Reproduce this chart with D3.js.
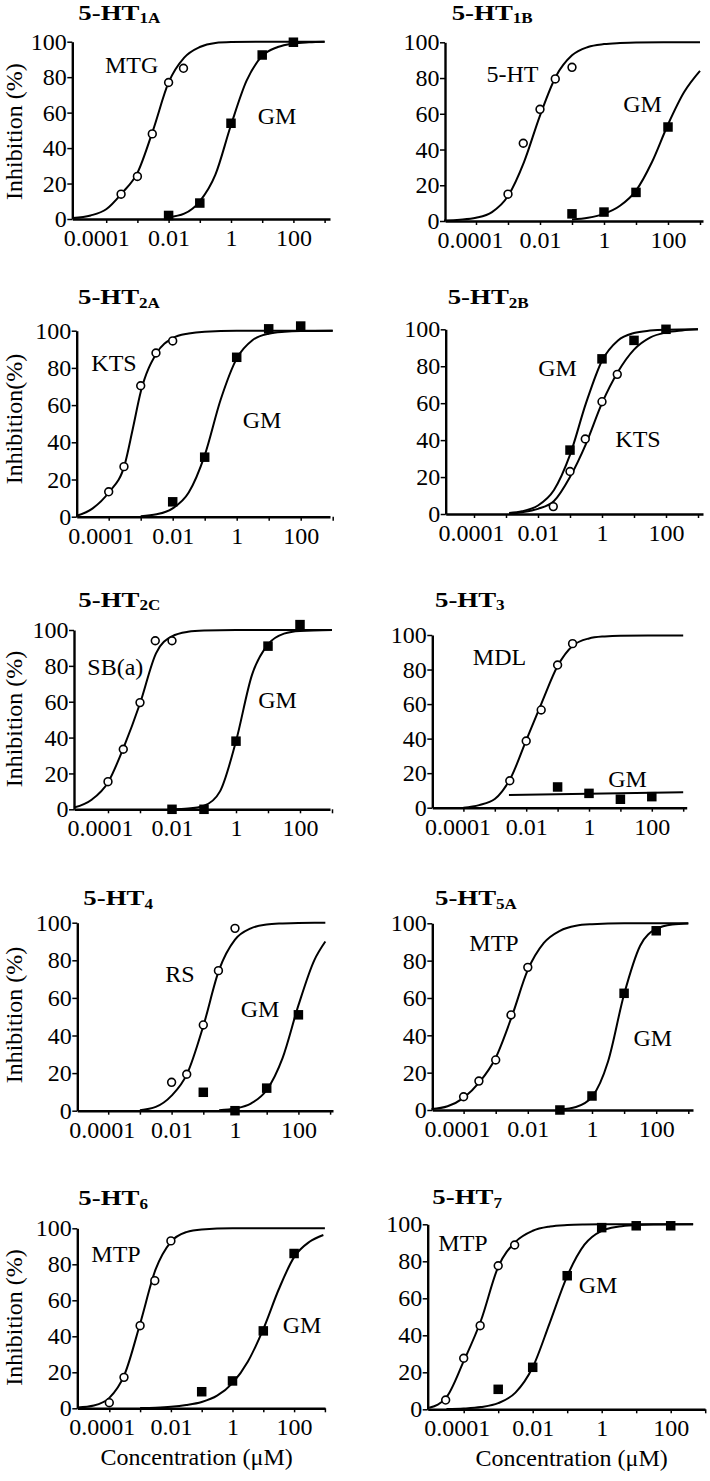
<!DOCTYPE html>
<html><head><meta charset="utf-8">
<script src="https://cdn.jsdelivr.net/npm/d3@7"></script>
<style>
body{margin:0;background:#fff}
svg{display:block}
text{font-family:"Liberation Serif","Times New Roman",serif;fill:#000}
</style>
</head><body>
<svg id="chart" width="710" height="1481"></svg>
<script>
// ---------------- DATA ----------------
const titleMain = ["5-HT","5-HT","5-HT","5-HT","5-HT","5-HT","5-HT","5-HT","5-HT","5-HT"];
const titleSub  = ["1A","1B","2A","2B","2C","3","4","5A","6","7"];
const refLabels = ["MTG","5-HT","KTS","KTS","SB(a)","MDL","RS","MTP","MTP","MTP"];
const gmLabel = "GM";
const yAxisLabels = ["Inhibition (%)", null, "Inhibition(%)", null, "Inhibition (%)", null, "Inhibition (%)", null, "Inhibition (%)", null];
const xAxisLabel = "Concentration (\u03bcM)";
const xTickValues = [1e-4, 1e-2, 1, 100];
const xTickLabels = ["0.0001", "0.01", "1", "100"];
const xAllTicks = [1e-4, 1e-3, 1e-2, 1e-1, 1, 10, 100, 1000];
const yTickValues = [0, 20, 40, 60, 80, 100];

// measured points [concentration (uM), inhibition (%)]
const ref_1A = [[3e-4,14],[1e-3,24],[3e-3,48],[1e-2,77],[3e-2,85]];
const gm_1A  = [[0.01,2],[0.1,9],[1,54],[10,92.5],[100,99.7]];
const ref_1B = [[1e-3,15],[3e-3,43.5],[1e-2,62.5],[3e-2,79.5],[0.1,86]];
const gm_1B  = [[0.1,4],[1,5],[10,16],[100,52.6]];
const ref_2A = [[1e-4,13.4],[3e-4,26.9],[1e-3,70.4],[3e-3,88],[1e-2,94.5]];
const gm_2A  = [[0.01,8],[0.1,32],[1,85.7],[10,101],[100,102.5]];
const ref_2B = [[0.03,4],[0.1,23],[0.3,40.6],[1,60.8],[3,75.6]];
const gm_2B  = [[0.1,34.6],[1,84],[10,94],[100,100]];
const ref_2C = [[1e-4,15.4],[3e-4,33.5],[1e-3,59.5],[3e-3,94],[1e-2,94]];
const gm_2C  = [[0.01,0],[0.1,0],[1,38],[10,91],[100,103]];
const ref_3  = [[3e-3,15.6],[1e-2,38.6],[3e-2,56.6],[0.1,82.6],[0.3,95]];
const gm_3   = [[0.1,12],[1,8.3],[10,4.9],[100,6.4]];
const ref_4  = [[0.01,15.1],[0.03,19.4],[0.1,45.6],[0.3,74.5],[1,97]];
const gm_4   = [[0.1,9.8],[1,0],[10,12],[100,51]];
const ref_5A = [[1e-4,7.1],[3e-4,15.5],[1e-3,26.8],[3e-3,50.9],[1e-2,76.4]];
const gm_5A  = [[0.1,0],[1,7.5],[10,62.5],[100,96]];
const ref_6  = [[1e-4,3.1],[3e-4,17.2],[1e-3,45.9],[3e-3,70.9],[1e-2,93]];
const gm_6   = [[0.1,9.2],[1,15.2],[10,43],[100,86]];
const ref_7  = [[3e-5,5],[1e-4,27.6],[3e-4,45.2],[1e-3,77.6],[3e-3,88.8]];
const gm_7   = [[1e-3,10.8],[1e-2,22.7],[0.1,72.2],[1,98.2],[10,99.2],[100,99.2]];

// fitted curves [log10 concentration, inhibition (%)]
const refFit_1A = [[-5.07,0.5],[-4.5,2],[-4,5.5],[-3.5,14.5],[-3,26],[-2.5,50],[-2,77],[-1.5,91],[-1,97],[-0.5,99.3],[0,99.8],[1,100],[3,100]];
const gmFit_1A  = [[-2,1],[-1.5,3],[-1,10],[-0.5,25],[0,53],[0.5,78],[1,92],[1.5,97],[2,99],[2.5,99.7],[3,100]];
const refFit_1B = [[-5,0.3],[-4.5,0.7],[-4,1.8],[-3.5,5],[-3,14],[-2.5,33],[-2,59],[-1.5,81],[-1,92.7],[-0.5,97.4],[0,99],[0.5,99.6],[1,99.9],[3,100]];
const gmFit_1B  = [[-1,0.8],[-0.5,1.8],[0,4],[0.5,8.5],[1,17],[1.5,33],[2,54],[2.5,72],[3,84]];
const refFit_2A = [[-5,0.5],[-4.5,4.5],[-4,13],[-3.5,28],[-3.25,47],[-3,67],[-2.5,88],[-2,96],[-1.5,98.5],[-1,99.5],[0,100],[3,100]];
const gmFit_2A  = [[-3,0.3],[-2.5,1.3],[-2,4.5],[-1.5,13],[-1,33],[-0.5,63],[0,85],[0.5,95],[1,98.4],[1.5,99.4],[2,99.8],[3,100]];
const refFit_2B = [[-2.9,0.3],[-2.5,1],[-2,2.8],[-1.5,7],[-1,20],[-0.5,38],[0,60],[0.5,77],[1,89],[1.5,95.5],[2,98.3],[2.5,99.4],[3,100]];
const gmFit_2B  = [[-2.9,0.6],[-2.5,1.5],[-2,4.6],[-1.5,13],[-1,32],[-0.5,60],[0,83],[0.5,94],[1,98],[1.5,99.3],[2,99.8],[3,100]];
const refFit_2C = [[-5.06,1],[-4.5,5.5],[-4,15],[-3.5,35],[-3,59],[-2.5,87],[-2,96.5],[-1.5,99],[-1,99.7],[0,100],[3,100]];
const gmFit_2C  = [[-2,0],[-1.5,0.4],[-1,2],[-0.5,10],[0,38],[0.5,75],[1,92],[1.5,98],[2,99.5],[3,100]];
const refFit_3  = [[-4,0],[-3.5,1.5],[-3,5],[-2.5,17],[-2,39],[-1.5,61],[-1,82],[-0.5,94],[0,98],[0.5,99.2],[1,99.6],[3,99.7]];
const gmFit_3   = [[-2.55,7.4],[3,8.9]];
const refFit_4  = [[-3,0.3],[-2.5,2],[-2,8],[-1.5,20],[-1,45],[-0.5,75],[0,91],[0.5,97],[1,99],[1.5,99.6],[2,99.9],[2.85,100]];
const gmFit_4   = [[-0.5,0.3],[0,1.2],[0.5,3.8],[1,11],[1.5,28],[2,56],[2.5,80],[2.85,90]];
const refFit_5A = [[-5,0.5],[-4.5,2],[-4,6.5],[-3.5,15],[-3,28],[-2.5,50],[-2,75],[-1.5,89.5],[-1,96],[-0.5,98.7],[0,99.5],[1,100],[3,100]];
const gmFit_5A  = [[-1,0.3],[-0.5,1.6],[0,7],[0.5,26],[1,62],[1.5,88],[2,97],[2.5,99.4],[3,99.9]];
const refFit_6  = [[-5.03,0.5],[-4.5,1.6],[-4,5.8],[-3.5,19],[-3,47],[-2.5,77],[-2,92.5],[-1.5,97.9],[-1,99.4],[0,100],[3,100]];
const gmFit_6   = [[-3,0.1],[-2.5,0.3],[-2,0.8],[-1.5,1.8],[-1,3.5],[-0.5,7],[0,14],[0.5,26],[1,44],[1.5,66],[2,84],[2.5,92.5],[2.95,96.3]];
const refFit_7  = [[-5,0.8],[-4.5,6.5],[-4,26],[-3.5,48],[-3,77],[-2.5,90.5],[-2,96.5],[-1.5,98.8],[-1,99.6],[-0.5,99.9],[0,100],[2.65,100]];
const gmFit_7   = [[-4.5,0.1],[-4,0.4],[-3.5,1.2],[-3,3.3],[-2.5,9],[-2,22.7],[-1.5,47],[-1,72],[-0.5,89],[0,96.5],[0.5,98.8],[1,99.6],[1.5,99.9],[2.65,100]];

const refPts = [ref_1A, ref_1B, ref_2A, ref_2B, ref_2C, ref_3, ref_4, ref_5A, ref_6, ref_7];
const gmPts  = [gm_1A, gm_1B, gm_2A, gm_2B, gm_2C, gm_3, gm_4, gm_5A, gm_6, gm_7];
const refFits = [refFit_1A, refFit_1B, refFit_2A, refFit_2B, refFit_2C, refFit_3, refFit_4, refFit_5A, refFit_6, refFit_7];
const gmFits  = [gmFit_1A, gmFit_1B, gmFit_2A, gmFit_2B, gmFit_2C, gmFit_3, gmFit_4, gmFit_5A, gmFit_6, gmFit_7];

// ---------------- LAYOUT (pixels) ----------------
const layout = [
 {ax0:72.3, x1:231,   dec:31.2, ax1:330,   y0:219,    y100:41.7,   t0:-10, title:[78.3,19.6],  ylab:[21.5,131.7], ref:[131.7,72.7], gm:[277,124]},
 {ax0:445,  x1:604,   dec:32,   ax1:703,   y0:221,    y100:42.3,   t0:-6,  title:[451.7,19.8], ref:[512.5,81.7], gm:[642.5,111.7]},
 {ax0:76.7, x1:236.7, dec:32,   ax1:330,   y0:516.7,  y100:330.7,  t0:-8,  title:[78,304],     ylab:[21.5,419],   ref:[114,370.7], gm:[262,428.3]},
 {ax0:445.7,x1:602,   dec:32,   ax1:703,   y0:514,    y100:329.3,  t0:-3,  title:[447.7,304],  ref:[638,447.3], gm:[557.5,376]},
 {ax0:74,   x1:236,   dec:32,   ax1:330,   y0:809.3,  y100:630,    t0:-8,  title:[78.3,606.7], ylab:[21.5,719],   ref:[115.3,675], gm:[277.5,707.7]},
 {ax0:432.3,x1:589,   dec:31.4, ax1:686.7, y0:807.7,  y100:635,    t0:-6,  title:[435,606.7],  ref:[499.5,665], gm:[627.5,786.7]},
 {ax0:77.3, x1:235,   dec:31.7, ax1:333,   y0:1110.7, y100:922.7,  t0:-6.5,title:[83.3,905],   ylab:[21.5,1015],  ref:[180,981.7], gm:[260,1016.7]},
 {ax0:432.3,x1:592,   dec:32.1, ax1:693,   y0:1110,   y100:923.3,  t0:-6.5,title:[435,905],    ref:[494,951], gm:[652.8,1045.7]},
 {ax0:77.3, x1:232.5, dec:30.8, ax1:325,   y0:1408.3, y100:1228.3, t0:-7.5,title:[78.3,1205],  ylab:[22.4,1317.5], xlab:[196.7,1465], ref:[116,1261.7], gm:[302,1333.3]},
 {ax0:427.7,x1:601.7, dec:34.5, ax1:705,   y0:1409.3, y100:1224.3, t0:-7,  title:[432.3,1204], xlab:[571.7,1466], ref:[463,1250.7], gm:[598,1293.3]}
];

// ---------------- DRAW ----------------
const svg = d3.select("#chart");
svg.append("rect").attr("width",710).attr("height",1481).attr("fill","#fff");

layout.forEach((L, i) => {
  const g = svg.append("g");
  const lo = (L.ax0 - L.x1) / L.dec, hi = (L.ax1 - L.x1) / L.dec;
  const x = d3.scaleLog().domain([Math.pow(10, lo), Math.pow(10, hi)]).range([L.ax0, L.ax1]);
  const y = d3.scaleLinear().domain([0, 100]).range([L.y0, L.y100]);

  // x axis
  const xa = g.append("g").attr("transform", `translate(0,${L.y0})`)
    .call(d3.axisBottom(x).tickValues(xAllTicks)
      .tickFormat(d => { const k = xTickValues.indexOf(d); return k >= 0 ? xTickLabels[k] : ""; })
      .tickSize(4).tickSizeOuter(0).tickPadding(6));
  xa.select(".domain").attr("stroke","#000").attr("stroke-width",2.4);
  xa.selectAll(".tick line").attr("stroke","#000").attr("stroke-width",1.5);
  xa.selectAll(".tick text").attr("font-size",24).attr("font-family","Liberation Serif, serif")
    .attr("dx", d => d === 1e-4 ? L.t0 : 0);

  // y axis
  const ya = g.append("g").attr("transform", `translate(${L.ax0},0)`)
    .call(d3.axisLeft(y).tickValues(yTickValues).tickSize(5).tickSizeOuter(0).tickPadding(0.5));
  ya.select(".domain").attr("stroke","#000").attr("stroke-width",2.4);
  ya.selectAll(".tick line").attr("stroke","#000").attr("stroke-width",1.5);
  ya.selectAll(".tick text").attr("font-size",24).attr("font-family","Liberation Serif, serif");

  // fitted curves
  const line = d3.line().x(d => x(Math.pow(10, d[0]))).y(d => y(d[1])).curve(d3.curveMonotoneX);
  [refFits[i], gmFits[i]].forEach(f => {
    g.append("path").attr("d", line(f)).attr("fill","none").attr("stroke","#000").attr("stroke-width",2);
  });

  // GM squares
  const s = 9.5;
  g.selectAll("rect.gm").data(gmPts[i]).enter().append("rect")
    .attr("x", d => x(d[0]) - s/2).attr("y", d => y(d[1]) - s/2)
    .attr("width", s).attr("height", s).attr("fill","#000");

  // reference open circles
  g.selectAll("circle.ref").data(refPts[i]).enter().append("circle")
    .attr("cx", d => x(d[0])).attr("cy", d => y(d[1])).attr("r", 3.9)
    .attr("fill","#fff").attr("stroke","#000").attr("stroke-width",1.6);

  // labels
  g.append("text").attr("x", L.ref[0]).attr("y", L.ref[1]).attr("text-anchor","middle")
    .attr("font-size",24).text(refLabels[i]);
  g.append("text").attr("x", L.gm[0]).attr("y", L.gm[1]).attr("text-anchor","middle")
    .attr("font-size",24).text(gmLabel);

  // title
  const t = g.append("text").attr("transform", `translate(${L.title[0]},${L.title[1]}) scale(1.22,1)`)
    .attr("font-size",22).attr("font-weight","bold");
  t.append("tspan").text(titleMain[i]);
  t.append("tspan").attr("font-size",14).attr("dy",3.5).text(titleSub[i]);

  // y label
  if (yAxisLabels[i] && L.ylab) {
    g.append("text").attr("transform", `translate(${L.ylab[0]},${L.ylab[1]}) rotate(-90)`)
      .attr("text-anchor","middle").attr("font-size",24).text(yAxisLabels[i]);
  }
  // x label
  if (L.xlab) {
    g.append("text").attr("x", L.xlab[0]).attr("y", L.xlab[1]).attr("text-anchor","middle")
      .attr("font-size",24).text(xAxisLabel);
  }
});
</script>
</body></html>
